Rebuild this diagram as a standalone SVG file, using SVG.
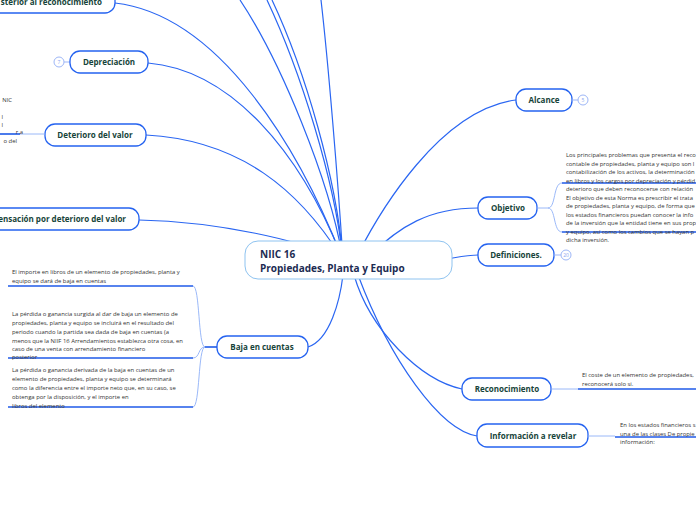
<svg xmlns="http://www.w3.org/2000/svg" width="696" height="520" viewBox="0 0 696 520">
<style>
.node{fill:#fff;stroke:#2563f0;stroke-width:1.3}
.lbl{font-family:"Open Sans","Noto Sans",sans-serif;font-weight:bold;font-size:8px;fill:#17443a;text-anchor:middle}
.con{fill:none;stroke:#2a66f2;stroke-width:1.2}
.thin{fill:none;stroke:#8fb0f7;stroke-width:0.9}
.ul{fill:none;stroke:#1f5ae8;stroke-width:1.6}
.txt{font-family:"Open Sans","Noto Sans",sans-serif;font-size:5.9px;fill:#333}
.badge{fill:#fff;stroke:#9db6f7;stroke-width:1}
.bt{font-family:"Open Sans",sans-serif;font-size:5px;fill:#8aa6f0;text-anchor:middle}
</style>
<rect width="696" height="520" fill="#fff"/>
<g id="connectors">
<path class="con" d="M240,0 C280,60 330,180 343,260"/>
<path class="con" d="M267,0 C300,70 335,180 343,260"/>
<path class="con" d="M272,0 C305,70 337,180 343,260"/>
<path class="con" d="M321,0 C328,60 338,180 343,260"/>
<path class="con" d="M115,3 C220,15 300,150 343,260"/>
<path class="con" d="M148,63 C230,70 300,150 343,260"/>
<path class="con" d="M146,135 C240,140 300,190 343,260"/>
<path class="con" d="M139,220 C220,222 300,240 343,260"/>
<path class="con" d="M516,100 C440,110 380,210 355,260"/>
<path class="con" d="M478,208 C430,208 400,225 365,260"/>
<path class="con" d="M478,255 C465,255 455,258 440,260"/>
<path class="con" d="M308,347 C330,340 340,300 343,275"/>
<path class="con" d="M462,389 C420,380 370,330 354,275"/>
<path class="con" d="M477,436 C440,430 390,360 358,275"/>
</g>
<g id="center">
<rect x="245" y="241" width="207" height="38" rx="13" fill="#fff" stroke="#8ec3f0" stroke-width="1"/>
<text x="260" y="258" font-family="'Open Sans','Noto Sans',sans-serif" font-weight="bold" font-size="10px" fill="#1c2b52">NIIC 16</text>
<text x="260" y="272" font-family="'Open Sans','Noto Sans',sans-serif" font-weight="bold" font-size="10px" fill="#1c2b52">Propiedades, Planta y Equipo</text>
</g>
<g id="n-medicion">
<rect class="node" x="-20" y="-10" width="135" height="23" rx="10"/>
<text class="lbl" x="102" y="5" style="text-anchor:end">sterior al reconocimiento</text>
</g>
<g id="n-depreciacion">
<line x1="64" y1="62" x2="70" y2="62" stroke="#9db6f7"/>
<circle class="badge" cx="59" cy="62" r="5"/>
<text class="bt" x="59" y="64">7</text>
<rect class="node" x="70" y="51" width="78" height="22" rx="10"/>
<text class="lbl" x="109" y="65">Depreciación</text>
</g>
<g id="n-deterioro">
<rect class="node" x="45" y="124" width="101" height="22" rx="10"/>
<text class="lbl" x="95" y="138">Deterioro del valor</text>
<line class="thin" x1="20" y1="134" x2="45" y2="134"/>
<line class="ul" x1="0" y1="134" x2="20" y2="134"/>
<text class="txt" x="12" y="102" style="text-anchor:end">NIC</text>
<text class="txt" x="3" y="119" style="text-anchor:end">l</text>
<text class="txt" x="3" y="127" style="text-anchor:end">l</text>
<text class="txt" x="23" y="134" style="text-anchor:end">r a</text>
<text class="txt" x="17" y="143" style="text-anchor:end">o del</text>
</g>
<g id="n-compensacion">
<rect class="node" x="-20" y="208" width="159" height="22" rx="10"/>
<text class="lbl" x="126" y="222" style="text-anchor:end">ensación por deterioro del valor</text>
</g>
<g id="n-alcance">
<rect class="node" x="516" y="89" width="56" height="22" rx="10"/>
<text class="lbl" x="544" y="103">Alcance</text>
<line x1="572" y1="100" x2="578" y2="100" stroke="#9db6f7"/>
<circle class="badge" cx="583" cy="100" r="5"/>
<text class="bt" x="583" y="102">5</text>
</g>
<g id="n-objetivo">
<rect class="node" x="478" y="197" width="59" height="22" rx="10"/>
<text class="lbl" x="508" y="211">Objetivo</text>
<path class="thin" d="M537,208 L548,208 C556,208 553,183 562,183 M548,208 C556,208 553,232 562,232"/>
<line class="ul" x1="562" y1="183" x2="696" y2="183"/>
<line class="ul" x1="562" y1="232" x2="696" y2="232"/>
<text class="txt" x="566" y="157">Los principales problemas que presenta el reco</text>
<text class="txt" x="566" y="165.5">contable de propiedades, planta y equipo son l</text>
<text class="txt" x="566" y="174">contabilización de los activos, la determinación</text>
<text class="txt" x="566" y="182.5">en libros y los cargos por depreciación y pérdid</text>
<text class="txt" x="566" y="191">deterioro que deben reconocerse con relación</text>
<text class="txt" x="566" y="199.5">El objetivo de esta Norma es prescribir el trata</text>
<text class="txt" x="566" y="208">de propiedades, planta y equipo, de forma que</text>
<text class="txt" x="566" y="216.5">los estados financieros puedan conocer la info</text>
<text class="txt" x="566" y="225">de la inversión que la entidad tiene en sus prop</text>
<text class="txt" x="566" y="233.5">y equipo, así como los cambios que se hayan p</text>
<text class="txt" x="566" y="242">dicha inversión.</text>
</g>
<g id="n-definiciones">
<rect class="node" x="478" y="244" width="76" height="22" rx="10"/>
<text class="lbl" x="516" y="258">Definiciones.</text>
<line x1="554" y1="255" x2="561" y2="255" stroke="#9db6f7"/>
<circle class="badge" cx="566" cy="255" r="5"/>
<text class="bt" x="566" y="257">20</text>
</g>
<g id="n-baja">
<rect class="node" x="217" y="336" width="91" height="22" rx="10"/>
<text class="lbl" x="262" y="350">Baja en cuentas</text>
<line class="ul" x1="205" y1="347" x2="217" y2="347"/>
<path class="thin" d="M205,347 C198,347 200,286 193,286 M205,347 C198,347 200,358 193,358 M205,347 C198,347 200,407 193,407"/>
<line class="ul" x1="8" y1="286" x2="193" y2="286"/>
<line class="ul" x1="8" y1="358" x2="193" y2="358"/>
<line class="ul" x1="8" y1="407" x2="193" y2="407"/>
<text class="txt" x="12" y="274">El importe en libros de un elemento de propiedades, planta y</text>
<text class="txt" x="12" y="283">equipo se dará de baja en cuentas</text>
<text class="txt" x="12" y="316">La pérdida o ganancia surgida al dar de baja un elemento de</text>
<text class="txt" x="12" y="325">propiedades, planta y equipo se incluirá en el resultado del</text>
<text class="txt" x="12" y="334">periodo cuando la partida sea dada de baja en cuentas (a</text>
<text class="txt" x="12" y="343">menos que la NIIF 16 Arrendamientos establezca otra cosa, en</text>
<text class="txt" x="12" y="351">caso de una venta con arrendamiento financiero</text>
<text class="txt" x="12" y="359">posterior</text>
<text class="txt" x="12" y="372">La pérdida o ganancia derivada de la baja en cuentas de un</text>
<text class="txt" x="12" y="381">elemento de propiedades, planta y equipo se determinará</text>
<text class="txt" x="12" y="390">como la diferencia entre el importe neto que, en su caso, se</text>
<text class="txt" x="12" y="399">obtenga por la disposición, y el importe en</text>
<text class="txt" x="12" y="408">libros del elemento</text>
</g>
<g id="n-reconocimiento">
<rect class="node" x="462" y="378" width="89" height="22" rx="10"/>
<text class="lbl" x="507" y="392">Reconocimiento</text>
<line class="thin" x1="551" y1="389" x2="578" y2="389"/>
<line class="ul" x1="578" y1="389" x2="696" y2="389"/>
<text class="txt" x="582" y="377">El coste de un elemento de propiedades,</text>
<text class="txt" x="582" y="386">reconocerá solo si.</text>
</g>
<g id="n-informacion">
<rect class="node" x="477" y="424" width="111" height="23" rx="10"/>
<text class="lbl" x="533" y="439">Información a revelar</text>
<line class="thin" x1="588" y1="436" x2="615" y2="436"/>
<line class="ul" x1="615" y1="437" x2="696" y2="437"/>
<text class="txt" x="620" y="427">En los estados financieros s</text>
<text class="txt" x="620" y="435.5">una de las clases De propie</text>
<text class="txt" x="620" y="444">información:</text>
</g>
</svg>
